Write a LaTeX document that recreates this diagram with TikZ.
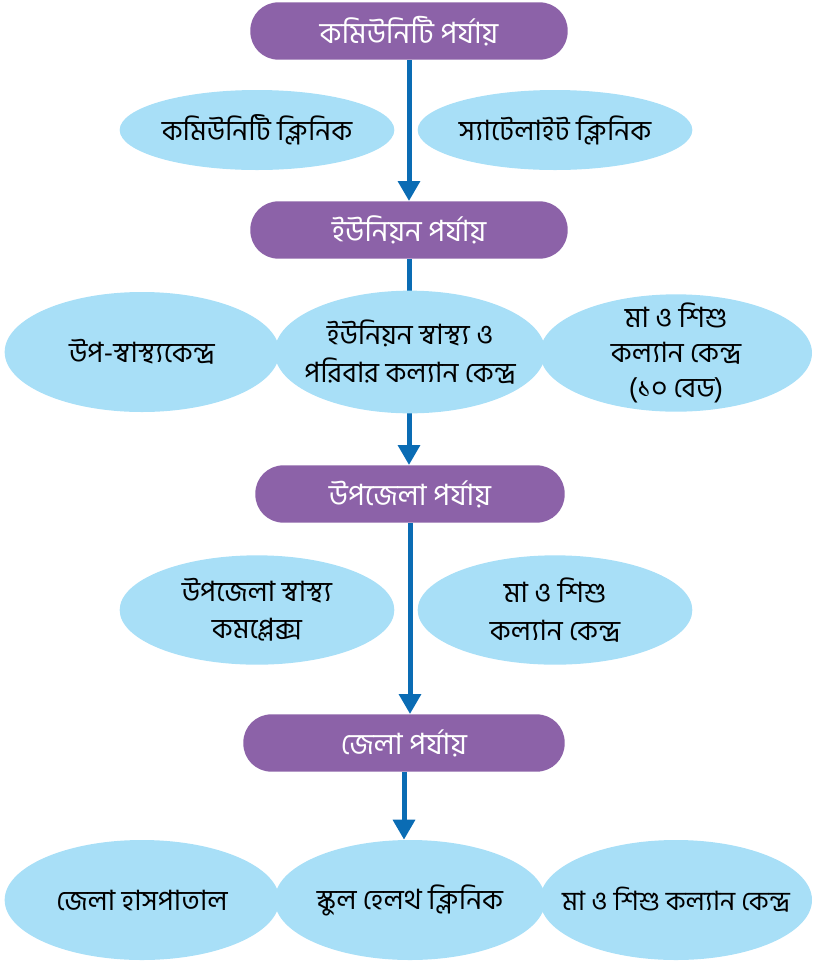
\documentclass[tikz,border=0pt]{standalone}
\usepackage{fontspec}
\newfontfamily\bnfont[Script=Bengali]{Hind Siliguri}
\usetikzlibrary{shapes.geometric,arrows.meta,backgrounds}
\definecolor{levelpurple}{HTML}{8C62A8}
\definecolor{unitblue}{HTML}{A8DFF7}
\definecolor{flowblue}{HTML}{0A6CB4}

\begin{document}
\begin{tikzpicture}[x=0.75pt,y=-0.75pt,
  level/.style={fill=levelpurple, text=white, rounded corners=21pt, minimum width=238pt, minimum height=43pt, inner sep=0pt, font=\bnfont\fontsize{22}{26}\selectfont},
  unit/.style={ellipse, fill=unitblue, inner sep=-40pt, minimum width=206pt, align=center, font=\bnfont\fontsize{21}{28}\selectfont},
  flow/.style={flowblue, line width=3.75pt, -{Triangle[width=16pt,length=15pt]}}]

\useasboundingbox (0,0) rectangle (814,961);

\node[level] (community) at (409,31) {কমিউনিটি পর্যায়};
\node[unit, minimum height=60pt] (cc) at (257,130) {কমিউনিটি ক্লিনিক};
\node[unit, minimum height=60pt] (sc) at (555,130) {স্যাটেলাইট ক্লিনিক};

\node[level] (union) at (409,230) {ইউনিয়ন পর্যায়};
\node[unit, minimum height=90pt] (subhc) at (142,352) {উপ-স্বাস্থ্যকেন্দ্র};
\node[unit, minimum height=92pt, minimum width=203pt] (uhfwc) at (410,352) {ইউনিয়ন স্বাস্থ্য ও\\পরিবার কল্যান কেন্দ্র};
\node[unit, minimum height=88pt, minimum width=204pt, font=\bnfont\fontsize{21}{26}\selectfont] (mcwcu) at (676,353) {মা ও শিশু\\কল্যান কেন্দ্র\\(১০ বেড)};

\node[level, minimum width=232pt] (upazila) at (410,494) {উপজেলা পর্যায়};
\node[unit, minimum height=82pt] (uhc) at (257,610) {উপজেলা স্বাস্থ্য\\কমপ্লেক্স};
\node[unit, minimum height=82pt] (mcwcz) at (555,610) {মা ও শিশু\\কল্যান কেন্দ্র};

\node[level, minimum width=241pt] (district) at (404,743) {জেলা পর্যায়};
\node[unit, minimum height=90pt] (dh) at (142,900) {জেলা হাসপাতাল};
\node[unit, minimum height=90pt, minimum width=203pt] (shc) at (410,900) {স্কুল হেলথ ক্লিনিক};
\node[unit, minimum height=90pt, minimum width=204pt, font=\bnfont\fontsize{20}{24}\selectfont] (mcwcd) at (676,900) {মা ও শিশু কল্যান কেন্দ্র};

\begin{scope}[on background layer]
\draw[flow] (community.south) -- (community.south |- union.north);
\draw[flow] (union.south) -- (union.south |- upazila.north);
\draw[flow] (upazila.south) -- (upazila.south |- district.north);
\draw[flow] (district.south) -- (district.south |- shc.north);
\end{scope}

\end{tikzpicture}
\end{document}
